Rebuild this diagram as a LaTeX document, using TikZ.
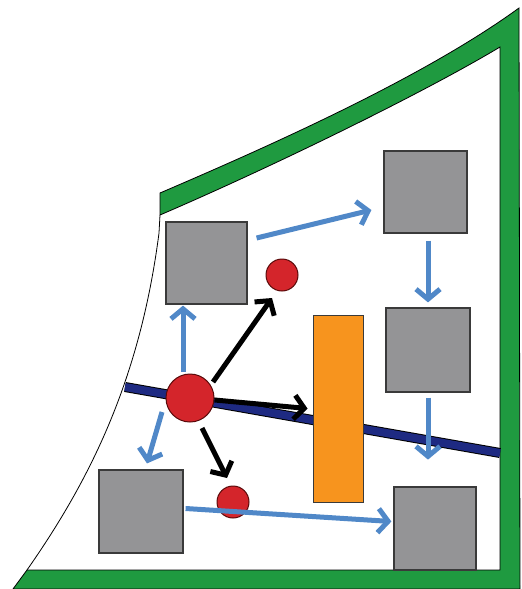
\documentclass[tikz,border=0pt]{standalone}
\usetikzlibrary{arrows.meta}
\definecolor{frameGreen}{HTML}{1F9A40}
\definecolor{boxGray}{HTML}{949496}
\definecolor{boxEdge}{HTML}{3A3A3A}
\definecolor{barOrange}{HTML}{F7941E}
\definecolor{dotRed}{HTML}{D4252B}
\definecolor{dotEdge}{HTML}{5A0A0A}
\definecolor{arrowBlue}{HTML}{5088C8}
\definecolor{lineNavy}{HTML}{1E2A82}
\tikzset{
  graybox/.style={draw=boxEdge, line width=1.2pt, fill=boxGray, inner sep=0pt},
  reddot/.style={circle, draw=dotEdge, line width=1pt, fill=dotRed, inner sep=0pt},
  orangebar/.style={draw=boxEdge, line width=1pt, fill=barOrange, inner sep=0pt},
  bluearrow/.style={draw=arrowBlue, line width=5pt, -{Straight Barb[length=10pt,width=24pt]}},
  blackarrow/.style={draw=black, line width=5pt, -{Straight Barb[length=10pt,width=24pt]}},
}
\begin{document}
\begin{tikzpicture}[x=1pt,y=-1pt]
\useasboundingbox (0,0) rectangle (522,589);
% green frame
\coordinate (tl) at (160,193);
\coordinate (ti) at (160,215);
\fill[frameGreen, draw=black, line width=0.8pt]
  (tl) .. controls (260,150) and (420,80) .. (519,8)
  -- (520,589) -- (13,589) -- (27,570) -- (500,570) -- (500,47)
  .. controls (420,95) and (265,170) .. (ti) -- cycle;
% thin left boundary
\coordinate (lb) at (27,570);
\draw[black, line width=0.8pt] (ti) -- (159,233) .. controls (140,380) and (90,480) .. (lb);
% navy line
\coordinate (n1) at (125,387);
\coordinate (n2) at (500,453);
\draw[black, line width=10pt] (n1) -- (n2);
\draw[lineNavy, line width=8pt] (n1) -- (n2);
% boxes
\node[graybox, minimum width=81pt, minimum height=82pt] (A) at (206.5,263) {};
\node[graybox, minimum width=83pt, minimum height=82pt] (B) at (425.5,192) {};
\node[graybox, minimum width=84pt, minimum height=84pt] (C) at (428,350) {};
\node[graybox, minimum width=84pt, minimum height=83pt] (D) at (141,511.5) {};
\node[graybox, minimum width=82pt, minimum height=83pt] (E) at (435,528.5) {};
\node[orangebar, minimum width=50pt, minimum height=187pt] (O) at (338,408.5) {};
% dots
\node[reddot, minimum size=48pt] (big) at (190,398) {};
\node[reddot, minimum size=32pt] (c1) at (282,275) {};
\node[reddot, minimum size=32pt] (c2) at (233,502) {};
% blue arrows
\draw[bluearrow] ([shift={(9,-25)}]A.east) -- ([shift={(-12,18)}]B.west);
\draw[bluearrow] ([shift={(2.5,7)}]B.south) -- ([shift={(0,-5)}]C.north);
\draw[bluearrow] ([shift={(0,5)}]C.south) -- ([shift={(0,67)}]C.south);
\draw[bluearrow] ([shift={(-7,-26)}]big.center) -- ([shift={(-23.5,1)}]A.south);
\draw[bluearrow] ([shift={(-28,14)}]big.center) -- ([shift={(6,-6)}]D.north);
\draw[bluearrow] ([shift={(2,-3)}]D.east) -- ([shift={(-2,-7)}]E.west);
% black arrows
\draw[blackarrow] ([shift={(23,-16)}]big.center) -- ([shift={(-10,23)}]c1.center);
\draw[blackarrow] ([shift={(0,2)}]big.east) -- ([shift={(-5,0)}]O.west);
\draw[blackarrow] ([shift={(12,30)}]big.center) -- ([shift={(-6,-24)}]c2.center);
\end{tikzpicture}
\end{document}
